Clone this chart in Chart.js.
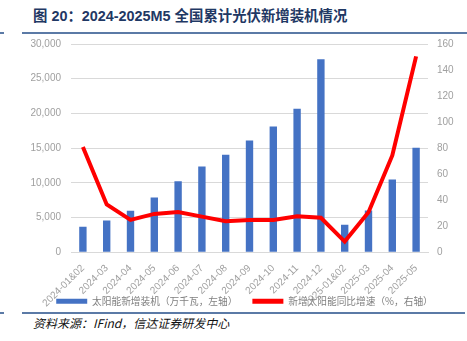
<!DOCTYPE html>
<html><head><meta charset="utf-8">
<script src="https://cdn.jsdelivr.net/npm/chart.js@4"></script>
<style>
html,body{margin:0;padding:0;background:#fff;width:467px;height:341px;overflow:hidden;position:relative;font-family:"Noto Sans CJK SC","Liberation Sans",sans-serif;}
#title{position:absolute;left:33px;top:4px;font-size:14.4px;font-weight:bold;color:#1f3864;white-space:nowrap;font-family:"Liberation Sans","Noto Sans CJK SC",sans-serif;}
.rule{position:absolute;height:2px;background:#5b7aa6;}
#src{position:absolute;left:33px;top:314px;font-size:12px;font-style:italic;color:#111;white-space:nowrap;}
#wrap{position:absolute;left:0;top:0;width:467px;height:341px;}
</style></head><body>
<div id="title">图 20：2024-2025M5 全国累计光伏新增装机情况</div>
<div class="rule" style="left:0;width:4px;top:32px"></div>
<div class="rule" style="left:22px;width:445px;top:32px"></div>
<div class="rule" style="left:0;width:4px;top:312px"></div>
<div class="rule" style="left:22px;width:443px;top:312px"></div>
<div id="src">资料来源：IFind，信达证券研发中心</div>
<div id="wrap"><canvas id="c" width="467" height="341"></canvas></div>
<script>
const categories = ["2024-01&02","2024-03","2024-04","2024-05","2024-06","2024-07","2024-08","2024-09","2024-10","2024-11","2024-12","2025-01&02","2025-03","2025-04","2025-05"];
const installed = [3670,4570,6000,7900,10240,12360,14040,16100,18130,20680,27790,3950,6010,10480,15050];
const growth = [80.8,36.7,24.9,29.5,31.0,27.4,23.8,24.9,24.9,27.7,26.5,8.2,30.8,74.4,150.5];
const leftTicks = [0,5000,10000,15000,20000,25000,30000];
const rightTicks = [0,20,40,60,80,100,120,140,160];
const barLabel = "太阳能新增装机（万千瓦，左轴）";
const lineLabel = "新增太阳能同比增速（%，右轴）";

const tickFont = {family:"Liberation Sans, Arial, sans-serif", size:10};
const noLabelClip = {
  id:'noLabelClip',
  beforeDraw(chart){
    Object.values(chart.scales).forEach(s => { s._computeLabelArea = () => undefined; });
  }
};
new Chart(document.getElementById('c'), {
  plugins:[noLabelClip],
  data: {
    labels: categories,
    datasets: [
      {type:'line', label: lineLabel, data: growth, yAxisID:'y1', borderColor:'#ff0000', backgroundColor:'#ff0000', borderWidth:4, pointRadius:0, tension:0, order:0},
      {type:'bar', label: barLabel, data: installed, yAxisID:'y', backgroundColor:'#4472c4', barPercentage:0.62, categoryPercentage:0.5, order:1}
    ]
  },
  options: {
    responsive:false, animation:false, devicePixelRatio:1,
    layout:{padding:{top:44, bottom:25, left:22, right:0}},
    plugins:{
      tooltip:{enabled:false},
      legend:{position:'bottom', reverse:true,
        labels:{boxWidth:31, boxHeight:5, padding:15, color:'#808080', font:{family:"Noto Sans CJK SC, sans-serif", size:9.7},
          generateLabels(chart){
            const ds = chart.data.datasets;
            return [
              {text: ds[0].label, fillStyle:'#ff0000', strokeStyle:'#ff0000', lineWidth:0, datasetIndex:0, fontColor:'#808080'},
              {text: ds[1].label, fillStyle:'#4472c4', strokeStyle:'#4472c4', lineWidth:0, datasetIndex:1, fontColor:'#808080'}
            ];
          }
        }
      }
    },
    scales:{
      x:{grid:{display:false}, border:{color:'#d9d9d9'},
        ticks:{color:'#a0a0a0', font:tickFont, minRotation:45, maxRotation:45, autoSkip:false, padding:2},
        afterFit(s){ s.height = 29; }
      },
      y:{position:'left', min:0, max:30000, border:{display:false},
        grid:{color:'#d9d9d9', drawTicks:false},
        afterBuildTicks(s){ s.ticks = leftTicks.map(v=>({value:v})); },
        ticks:{color:'#a0a0a0', font:tickFont, padding:10, callback:v=>v.toLocaleString('en-US')},
        afterFit(s){ s.width = 49; }
      },
      y1:{position:'right', min:0, max:160, border:{display:false},
        grid:{display:false, drawTicks:false},
        afterBuildTicks(s){ s.ticks = rightTicks.map(v=>({value:v})); },
        ticks:{color:'#a0a0a0', font:tickFont, padding:9},
        afterFit(s){ s.width = 39; }
      }
    }
  }
});
</script>
</body></html>
